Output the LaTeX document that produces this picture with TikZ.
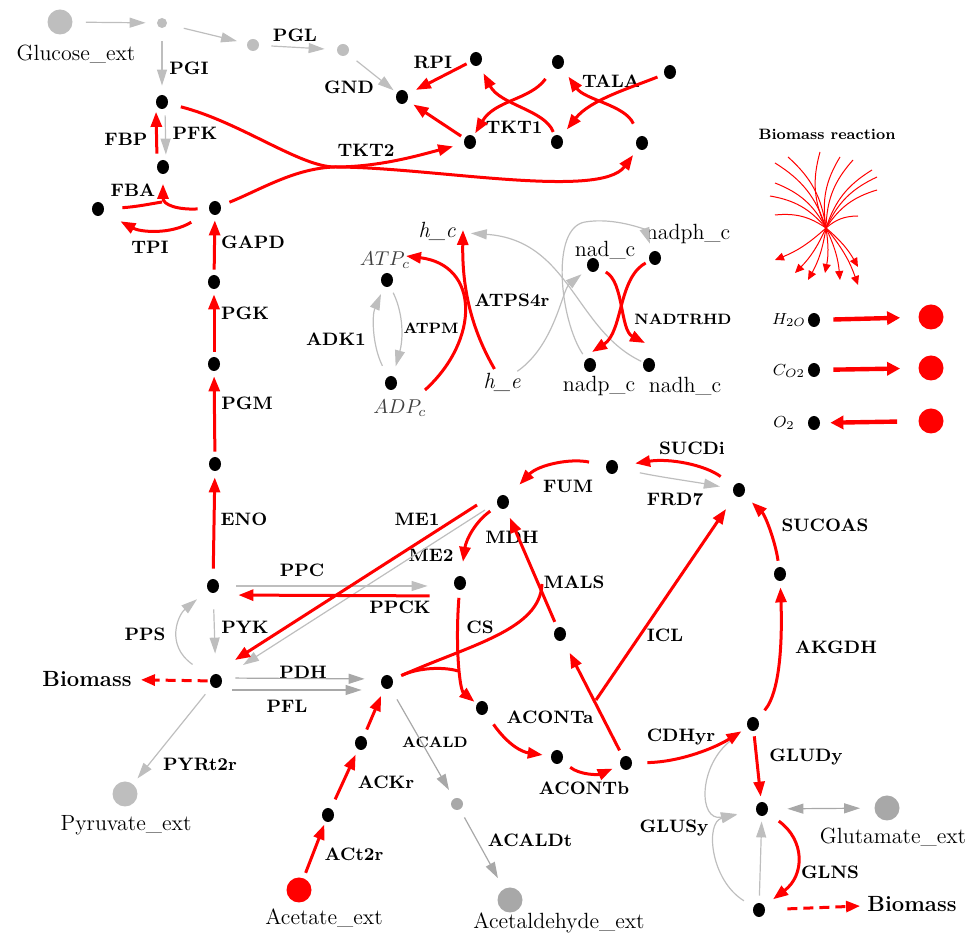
\documentclass[tikz,border=0pt]{standalone}
\usepackage{xcolor}
\usepackage{tikz}
\usetikzlibrary{arrows.meta, shapes.geometric}

\definecolor{offgray}{RGB}{190,190,190}
\definecolor{offdark}{RGB}{168,168,168}

\tikzset{
  met/.style={ellipse, fill=black, minimum width=6pt, minimum height=7pt, inner sep=0pt},
  gmet/.style={circle, fill=offgray, minimum size=6pt, inner sep=0pt},
  exch/.style={circle, fill=#1, minimum size=12.5pt, inner sep=0pt},
  rxn/.style={font=\small\bfseries, inner sep=0pt},
  srxn/.style={font=\fontsize{7.5}{9}\selectfont\bfseries, inner sep=0pt},
  metname/.style={font=\fontsize{11}{13}\selectfont, inner sep=0pt},
  actrx/.style={red, line width=1.5pt, -{Triangle[length=7.5pt,width=5.5pt]}, shorten >=2.5pt, shorten <=2.5pt},
  actline/.style={red, line width=1.5pt, shorten <=2.5pt},
  offrx/.style={offgray, line width=0.6pt, -{Triangle[length=8pt,width=5pt]}, shorten >=6pt, shorten <=6pt},
  biorx/.style={red, line width=1.5pt, dash pattern=on 5pt off 3pt, -{Triangle[length=7pt,width=5.5pt]}},
  bigrx/.style={red, line width=2.2pt, -{Triangle[length=6.5pt,width=6.5pt]}},
  fanrx/.style={red, line width=0.5pt},
}

\begin{document}
\begin{tikzpicture}[x=0.5pt, y=-0.5pt]
\useasboundingbox (0,0) rectangle (971,940);

% metabolites
\node[exch=offgray] (glcex) at (60,22) {};
\node[gmet, minimum size=5pt] (g6p) at (162,23) {};
\node[gmet] (pgl6) at (253,45) {};
\node[gmet] (pgc6) at (343,50) {};
\node[met] (ru5p) at (402,97) {};
\node[met] (r5p) at (476,59) {};
\node[met] (xu5p) at (470,142) {};
\node[met] (s7p) at (558,62) {};
\node[met] (g3pp) at (557,142) {};
\node[met] (f6pp) at (670,72) {};
\node[met] (e4p) at (642,143) {};
\node[met] (f6p) at (162,102) {};
\node[met] (fdp) at (163,167) {};
\node[met] (dhap) at (98,209) {};
\node[met] (g3p) at (215,208) {};
\node[met] (dpg13) at (214,282) {};
\node[met] (pg3) at (214,364) {};
\node[met] (pg2) at (215,464) {};
\node[met] (pep) at (213,586) {};
\node[met] (pyr) at (216,681) {};
\node[met] (accoa) at (387,682) {};
\node[met] (actp) at (361,743) {};
\node[met] (ac) at (328,815) {};
\node[exch=red] (acex) at (299,890) {};
\node[gmet, fill=offdark] (acald) at (457,804) {};
\node[exch=offdark] (acaldex) at (510,900) {};
\node[exch=offgray] (pyrex) at (125,794) {};
\node[met] (oaa) at (460,583) {};
\node[met] (mal) at (503,502) {};
\node[met] (fum) at (612,467) {};
\node[met] (succ) at (739,490) {};
\node[met] (succoa) at (780,574) {};
\node[met] (akg) at (753,724) {};
\node[met] (icit) at (626,763) {};
\node[met] (acon) at (557,757) {};
\node[met] (cit) at (482,708) {};
\node[met] (glx) at (560,634) {};
\node[met] (glu) at (762,809) {};
\node[met] (gln) at (759,910) {};
\node[exch=offdark] (gluex) at (887,808) {};

\node[met] (atp) at (387,280) {};
\node[met] (adp) at (391,383) {};
\node[met] (nad) at (593,265) {};
\node[met] (nadph) at (655,258) {};
\node[met] (nadp) at (590,365) {};
\node[met] (nadh) at (649,365) {};

\node[met] (h2o) at (814,320) {};
\node[met] (co2) at (814,370) {};
\node[met] (o2) at (814,423) {};
\node[exch=red] (h2oex) at (931,317) {};
\node[exch=red] (co2ex) at (931,368) {};
\node[exch=red] (o2ex) at (931,421) {};

% metabolite names
\node[metname] (lglc) at (76,54) {Glucose\_ext};
\node[metname] (lpyr) at (126,825) {Pyruvate\_ext};
\node[metname] (lac) at (324,918) {Acetate\_ext};
\node[metname] (lacald) at (559,923) {Acetaldehyde\_ext};
\node[metname] (lglu) at (893,837) {Glutamate\_ext};
\node[metname, font=\fontsize{11}{13}\selectfont\bfseries] (biol) at (87,679) {Biomass};
\node[metname, font=\fontsize{11}{13}\selectfont\bfseries] (bior) at (912,904) {Biomass};
\node[metname, font=\fontsize{11}{13}\selectfont\itshape] (hc) at (437,231) {h\_c};
\node[metname, font=\fontsize{11}{13}\selectfont\itshape] (he) at (502,382) {h\_e};
\node[inner sep=0pt, text=black!75] (latp) at (385,260) {$ATP_c$};
\node[inner sep=0pt, text=black!75] (ladp) at (400,408) {$ADP_c$};
\node[metname] (lnad) at (605,250) {nad\_c};
\node[metname] (lnadph) at (688,234) {nadph\_c};
\node[metname] (lnadp) at (599,386) {nadp\_c};
\node[metname] (lnadh) at (685,386) {nadh\_c};
\node[inner sep=0pt, font=\footnotesize] (lh2o) at (789,320) {$H_{2O}$};
\node[inner sep=0pt, font=\footnotesize] (lco2) at (789,371) {$C_{O2}$};
\node[inner sep=0pt, font=\footnotesize] (lo2) at (784,423) {$O_2$};

% reaction names
\node[rxn] (lPGI) at (189,68) {PGI};
\node[rxn] (lPGL) at (295,35) {PGL};
\node[rxn] (lGND) at (349,87) {GND};
\node[rxn] (lRPI) at (433,62) {RPI};
\node[rxn] (lTKT1) at (514,127) {TKT1};
\node[rxn] (lTALA) at (611,81) {TALA};
\node[rxn] (lTKT2) at (366,150) {TKT2};
\node[rxn] (lFBP) at (126,139) {FBP};
\node[rxn] (lPFK) at (195,133) {PFK};
\node[rxn] (lFBA) at (133,190) {FBA};
\node[rxn] (lTPI) at (150,247) {TPI};
\node[rxn] (lGAPD) at (253,242) {GAPD};
\node[rxn] (lPGK) at (245,313) {PGK};
\node[rxn] (lPGM) at (247,403) {PGM};
\node[rxn] (lENO) at (244,519) {ENO};
\node[rxn] (lPPC) at (302,570) {PPC};
\node[rxn] (lPPCK) at (400,607) {PPCK};
\node[rxn] (lME1) at (417,519) {ME1};
\node[rxn] (lME2) at (431,555) {ME2};
\node[rxn] (lPYK) at (245,627) {PYK};
\node[rxn] (lPPS) at (145,634) {PPS};
\node[rxn] (lPDH) at (303,672) {PDH};
\node[rxn] (lPFL) at (287,706) {PFL};
\node[rxn] (lPYRt2r) at (200,764) {PYRt2r};
\node[rxn] (lACKr) at (386,782) {ACKr};
\node[rxn] (lACt2r) at (354,854) {ACt2r};
\node[srxn] (lACALD) at (435,742) {ACALD};
\node[rxn] (lACALDt) at (530,840) {ACALDt};
\node[rxn] (lSUCDi) at (692,448) {SUCDi};
\node[rxn] (lFUM) at (568,486) {FUM};
\node[rxn] (lFRD7) at (675,499) {FRD7};
\node[rxn] (lMDH) at (512,537) {MDH};
\node[rxn] (lMALS) at (574,582) {MALS};
\node[rxn] (lCS) at (480,627) {CS};
\node[rxn] (lICL) at (665,635) {ICL};
\node[rxn] (lSUCOAS) at (825,525) {SUCOAS};
\node[rxn] (lAKGDH) at (836,647) {AKGDH};
\node[rxn] (lACONTa) at (550,717) {ACONTa};
\node[rxn] (lACONTb) at (584,788) {ACONTb};
\node[rxn] (lCDHyr) at (681,737) {CDHyr};
\node[rxn] (lGLUDy) at (806,757) {GLUDy};
\node[rxn] (lGLUSy) at (674,828) {GLUSy};
\node[rxn] (lGLNS) at (830,872) {GLNS};
\node[rxn] (lATPS4r) at (512,300) {ATPS4r};
\node[srxn] (lATPM) at (431,328) {ATPM};
\node[rxn] (lADK1) at (336,339) {ADK1};
\node[srxn] (lNADTRHD) at (683,319) {NADTRHD};
\node[srxn] (lbioreac) at (827,134) {Biomass reaction};

% junctions
\coordinate (fbaj) at (162,202);
\coordinate (tkt2j) at (335,167);
\coordinate (csj) at (458,671);
\coordinate (malsj) at (542,584);
\coordinate (iclj) at (596,700);
\coordinate (bioc) at (826,228);

% inactive reactions
\path[offrx]
  (glcex) edge[shorten <=6.5pt, shorten >=5.5pt] (g6p)
  (g6p) edge[shorten <=8.5pt, shorten >=5pt] (pgl6)
  (pgl6) edge (pgc6)
  (pgc6) edge[shorten <=5.5pt, shorten >=2pt] (ru5p)
  (g6p) edge[shorten <=6.5pt, shorten >=4.5pt] (f6p)
  ([xshift=1.5pt]f6p.south) edge[shorten <=3pt, shorten >=2.5pt] ([xshift=1.5pt]fdp.north)
  (pep) edge[shorten <=8pt, shorten >=10pt] (pyr)
  (pep) edge[shorten <=8.5pt, shorten >=13pt] ([yshift=-1.5pt]oaa.west)
  ([shift={(-18,8)}]mal.center) edge[shorten <=0pt, shorten >=0pt] ([shift={(27,-16)}]pyr.center)
  (pyr) edge[shorten <=5pt, shorten >=3.5pt] (pyrex)
  (gln) edge[shorten <=3.5pt, shorten >=2.5pt] (glu);
\path[offrx, offdark]
  ([yshift=1.5pt]pyr.east) edge[shorten <=6.5pt, shorten >=8pt] ([yshift=1.5pt]accoa.west)
  ([yshift=-4.5pt]pyr.east) edge[shorten <=5pt, shorten >=9.5pt] ([yshift=-4pt]accoa.west)
  (accoa) edge[shorten <=6.5pt, shorten >=4.8pt] (acald)
  (acald) edge[shorten <=4.5pt, shorten >=6pt] (acaldex)
  (glu) edge[{Triangle[length=8pt,width=5pt]}-{Triangle[length=8pt,width=5pt]}, shorten <=9.5pt, shorten >=7pt] (gluex);
\draw[offrx, shorten <=11pt, shorten >=7pt] (pyr) .. controls (165,645) and (178,615) .. (pep);
\draw[offrx, shorten <=11pt, shorten >=6.5pt] (fum) .. controls (660,477) and (695,482) .. (succ);
\draw[offrx, shorten <=10pt, shorten >=9.5pt] (akg) .. controls (698,765) and (698,822) .. (glu);
\draw[offrx, shorten <=5.5pt, shorten >=9.5pt] (gln) .. controls (710,880) and (705,822) .. (glu);
\draw[offrx, shorten <=3.5pt, shorten >=5pt] (atp) .. controls (404,315) and (403,340) .. (adp);
\draw[offrx, shorten <=6pt, shorten >=4pt] (adp) .. controls (372,345) and (372,315) .. (atp);
\draw[offrx, shorten <=1pt, shorten >=4pt] (he) .. controls (555,345) and (562,290) .. (nad);
\draw[offrx, shorten <=1pt, shorten >=7.5pt] (nadh) .. controls (575,330) and (570,240) .. (hc);
\draw[offrx, shorten <=3pt, shorten >=4pt] (nadp) .. controls (560,320) and (550,228) .. (585,222)
  .. controls (615,217) and (645,230) .. (nadph);

% active reactions
\path[actrx]
  ([xshift=-3pt]fdp.north) edge[shorten <=3pt, shorten >=1.25pt] ([xshift=-3pt]f6p.south)
  (dpg13) edge (g3p)
  (pg3) edge (dpg13)
  (pg2) edge (pg3)
  (pep) edge[shorten <=5pt, shorten >=3pt] (pg2)
  ([yshift=-6.5pt]oaa.west) edge[shorten <=12pt, shorten >=9.5pt] ([yshift=-4.5pt]pep.east)
  ([shift={(-26,3)}]mal.center) edge[shorten <=0pt, shorten >=0pt] ([shift={(19,-21)}]pyr.center)
  (r5p) edge[shorten <=2pt, shorten >=4.5pt] (ru5p)
  (xu5p) edge[shorten <=2pt, shorten >=3.5pt] (ru5p)
  (glx) edge[shorten <=3pt, shorten >=5pt] (mal)
  (icit) edge[shorten <=3.5pt, shorten >=7pt] (glx)
  (iclj) edge[shorten <=0pt, shorten >=8pt] (succ)
  (akg) edge (glu)
  (acex) edge[shorten <=2.75pt, shorten >=1.5pt] (ac)
  (ac) edge[shorten <=5pt, shorten >=2.8pt] (actp)
  (actp) edge[shorten <=3.7pt, shorten >=4pt] (accoa);

% glycolysis and pentose phosphate
\draw[actrx, shorten <=5.5pt, shorten >=4.75pt] (g3p) .. controls (178,210) and (163,205) .. (fdp);
\draw[actline, shorten <=9pt] (dhap) .. controls (135,207) and (150,204) .. (fbaj);
\draw[actrx, shorten <=10.5pt, shorten >=9.5pt] (g3p) .. controls (170,235) and (140,232) .. (dhap);
\draw[actrx, shorten <=7pt, shorten >=1.5pt] (s7p) .. controls (530,100) and (495,100) .. (xu5p);
\draw[actrx, shorten <=1.75pt, shorten >=4.5pt] (g3pp) .. controls (545,110) and (500,105) .. (r5p);
\draw[actrx, shorten <=3.5pt, shorten >=4.5pt] (f6pp) .. controls (630,88) and (590,100) .. (g3pp);
\draw[actrx, shorten <=7pt, shorten >=5.5pt] (e4p) .. controls (625,105) and (585,100) .. (s7p);
\draw[actrx, shorten <=6.5pt, shorten >=4pt] (f6p) .. controls (240,122) and (300,167) .. (tkt2j)
  .. controls (430,167) and (600,200) .. (e4p);
\draw[actrx, shorten <=4.5pt, shorten >=5.5pt] (g3p) .. controls (260,190) and (295,168) .. (tkt2j)
  .. controls (380,167) and (420,155) .. (xu5p);

% TCA cycle
\draw[actrx, shorten <=4.5pt, shorten >=7pt] (mal) .. controls (475,522) and (466,540) .. (oaa);
\draw[actrx, shorten <=8.5pt, shorten >=8.5pt] (fum) .. controls (570,458) and (538,465) .. (mal);
\draw[actrx, shorten <=8pt, shorten >=8.5pt] (succ) .. controls (705,465) and (670,458) .. (fum);
\draw[actrx, shorten <=3pt, shorten >=5.5pt] (succoa) .. controls (775,540) and (765,515) .. (succ);
\draw[actrx, shorten <=5.5pt, shorten >=3pt] (akg) .. controls (782,690) and (782,630) .. (succoa);
\draw[actrx, shorten <=7.5pt, shorten >=3.5pt] (icit) .. controls (680,762) and (715,748) .. (akg);
\draw[actrx, shorten <=5pt, shorten >=4pt] (acon) .. controls (580,775) and (598,775) .. (icit);
\draw[actrx, shorten <=6.5pt, shorten >=4pt] (cit) .. controls (508,745) and (522,752) .. (acon);
\draw[actrx, shorten <=3.75pt, shorten >=1.5pt] (oaa) .. controls (455,650) and (460,690) .. (cit);
\draw[actline, shorten <=4.5pt] (accoa) .. controls (420,667) and (445,667) .. (csj);
\draw[actline, shorten <=5pt] (accoa) .. controls (470,645) and (540,630) .. (malsj);
\draw[actrx, shorten <=7pt, shorten >=5.5pt] (glu) .. controls (805,840) and (805,875) .. (gln);
\draw[biorx, shorten <=11pt, shorten >=3.5pt] (gln) -- (bior);
\draw[biorx, shorten <=1pt, shorten >=4.5pt] (pyr) -- (biol);

% energy
\draw[actrx, shorten <=2pt, shorten >=0pt] (he) .. controls (472,330) and (462,290) .. ([shift={(26,-1)}]hc.center);
\draw[actrx, shorten <=0pt, shorten >=0pt] ([shift={(34,7)}]adp.center) .. controls (480,340) and (480,265) .. ([shift={(19,-24)}]atp.center);
\draw[actrx, shorten <=4pt, shorten >=0pt] (nad) .. controls (624,282) and (620,330) .. ([shift={(-4,-22)}]nadh.center);
\draw[actrx, shorten <=2pt, shorten >=0pt] (nadph) .. controls (618,278) and (623,332) .. ([shift={(2,-13)}]nadp.center);

% exchange
\draw[bigrx, shorten <=6.5pt, shorten >=9pt] (h2o) -- (h2oex);
\draw[bigrx, shorten <=6.5pt, shorten >=9pt] (co2) -- (co2ex);
\draw[bigrx, shorten <=10.5pt, shorten >=5pt] (o2ex) -- (o2);

% biomass reaction
\foreach \x/\y in {775/163, 788/157, 775/183, 770/196, 775/215}
  \draw[fanrx] (\x,\y) to[bend left=20] (bioc);
\foreach \x/\y in {820/152, 840/157, 853/160, 872/170, 877/177, 877/190, 858/216}
  \draw[fanrx] (\x,\y) to[bend right=20] (bioc);
\foreach \x/\y in {775/260, 795/273, 808/280, 825/273, 840/280, 858/285, 858/267}
  \draw[fanrx, -{Triangle[length=4.5pt,width=4pt]}] (bioc) to[bend left=10] (\x,\y);

\end{tikzpicture}
\end{document}
